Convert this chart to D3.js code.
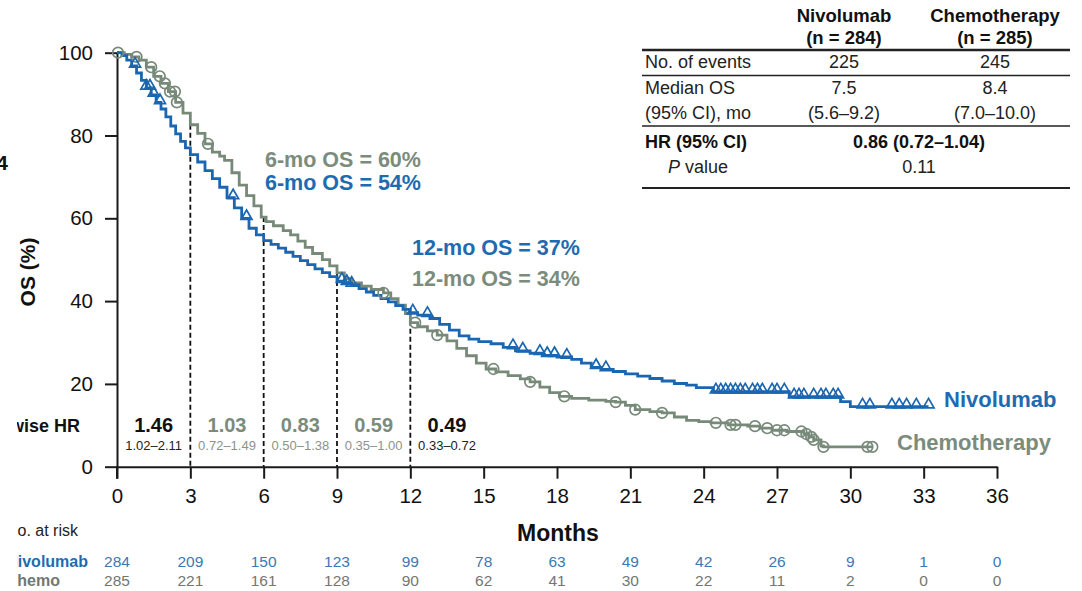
<!DOCTYPE html>
<html>
<head>
<meta charset="utf-8">
<script src="https://cdn.jsdelivr.net/npm/d3@7"></script>
<style>
  html, body { margin: 0; padding: 0; background: #fff; }
  svg { display: block; font-family: "Liberation Sans", Arial, sans-serif; }
</style>
</head>
<body>
<svg id="chart" width="1082" height="591"></svg>
<script>
// Kaplan–Meier step points [month, % alive]
const nivoSteps = [
  [0,100],[0.2,99.3],[0.4,98.2],[0.6,96.8],[0.8,95.1],[1.0,93.3],[1.2,91.5],[1.4,89.8],
  [1.6,88.0],[1.8,86.4],[2.0,84.5],[2.2,82.3],[2.4,80.4],[2.6,78.6],[2.8,77.0],[3.0,75.4],
  [3.3,73.6],[3.6,71.5],[3.9,69.6],[4.2,67.5],[4.5,65.0],[4.8,62.5],[5.1,60.0],[5.4,57.6],
  [5.7,56.0],[6.0,54.6],[6.3,53.7],[6.6,52.8],[6.9,51.8],[7.2,50.8],[7.5,49.8],[7.8,48.8],
  [8.1,47.8],[8.4,46.9],[8.7,45.9],[9.0,44.8],[9.3,44.3],[9.6,43.9],[9.9,43.0],[10.2,42.2],
  [10.5,41.4],[10.8,40.6],[11.1,39.8],[11.4,38.9],[11.7,38.0],[12.0,37.2],[12.3,36.6],
  [12.8,35.8],[13.2,34.4],[13.6,33.0],[14.0,31.6],[14.4,30.8],[14.8,30.2],[15.3,29.7],
  [15.8,28.8],[16.3,28.0],[16.9,27.4],[17.4,26.9],[18.0,26.5],[18.6,25.9],[19.0,25.0],
  [19.4,24.0],[19.8,23.5],[20.3,23.0],[20.8,22.4],[21.3,21.9],[21.8,21.3],[22.3,20.7],
  [22.8,20.1],[23.3,19.7],[23.7,19.1],[24.4,18.1],[27.5,16.9],[29.6,15.7],[30.0,14.5],
  [33.2,14.5]
];
const chemoSteps = [
  [0,100],[0.3,99.6],[0.6,99.0],[0.9,98.2],[1.2,96.5],[1.5,94.3],[1.8,92.6],[2.1,90.6],
  [2.4,88.0],[2.7,85.4],[3.0,82.6],[3.3,80.5],[3.6,78.0],[3.9,76.0],[4.2,75.0],[4.4,74.0],
  [4.7,71.0],[5.0,68.0],[5.3,65.5],[5.6,63.0],[5.9,60.3],[6.1,59.2],[6.4,58.2],[6.8,57.0],
  [7.1,56.0],[7.4,54.5],[7.7,53.0],[8.0,51.5],[8.4,50.0],[8.7,48.5],[9.0,46.8],[9.3,45.4],
  [9.6,44.4],[10.0,43.6],[10.4,42.8],[10.9,42.0],[11.2,40.6],[11.5,39.0],[11.8,37.0],
  [12.0,34.8],[12.3,33.8],[12.7,32.8],[13.1,31.8],[13.5,30.4],[13.9,28.6],[14.3,26.8],
  [14.7,25.0],[15.1,23.6],[15.5,22.9],[16.0,22.0],[16.5,21.2],[16.9,20.5],[17.3,19.2],
  [17.7,17.9],[18.1,17.0],[18.6,16.5],[19.3,16.1],[20.0,15.8],[20.4,15.6],[20.8,14.8],
  [21.2,13.8],[21.8,13.3],[22.3,13.0],[22.8,12.0],[23.3,11.2],[23.8,10.9],[24.3,10.6],
  [25.0,10.1],[25.8,9.8],[26.3,9.3],[26.8,8.8],[27.4,8.5],[28.1,7.9],[28.3,7.2],[28.5,6.5],
  [28.8,5.0],[28.9,4.8],[30.9,4.8]
];

// Censoring times (months)
const nivoCensor = [0.74,1.2,1.35,1.5,1.76,4.75,5.3,9.2,9.4,9.6,12.1,12.7,16.2,16.6,17.3,
  17.6,17.9,18.4,19.6,20.0,24.5,24.7,24.9,25.1,25.3,25.5,25.7,26.0,26.2,26.4,26.8,27.0,
  27.3,27.7,27.9,28.1,28.5,28.8,29.0,29.3,29.5,30.5,30.8,31.7,32.0,32.3,32.7,33.2];
const chemoCensor = [0.04,0.8,1.4,1.75,1.96,2.17,2.37,2.45,3.72,10.9,12.2,13.1,15.4,16.9,
  18.3,20.4,21.2,22.3,24.5,25.1,25.3,26.1,26.6,27.0,27.3,28.0,28.2,28.4,28.5,28.9,30.7,30.9];

const monthTicks = [0,3,6,9,12,15,18,21,24,27,30,33,36];
const pctTicks = [0,20,40,60,80,100];
const nivoAtRisk = [284,209,150,123,99,78,63,49,42,26,9,1,0];
const chemoAtRisk = [285,221,161,128,90,62,41,30,22,11,2,0,0];

// Piecewise HRs per 3-month interval
const hrIntervals = [[0,3],[3,6],[6,9],[9,12],[12,15]];
const hrValues = ["1.46","1.03","0.83","0.59","0.49"];
const hrCIs = ["1.02–2.11","0.72–1.49","0.50–1.38","0.35–1.00","0.33–0.72"];
const hrDark = [true,false,false,false,true];
const landmarks = [3,6,9,12];

// Summary table
const tableHeads = [["Nivolumab","(n = 284)"],["Chemotherapy","(n = 285)"]];
const eventsRow = ["No. of events","225","245"];
const medianRow = ["Median OS","7.5","8.4"];
const medianCIRow = ["(95% CI), mo","(5.6–9.2)","(7.0–10.0)"];
const hrRow = ["HR (95% CI)","0.86 (0.72–1.04)"];
const pRow = ["value","0.11"];

const BLUE = "#1b66b1", BLUE_TXT = "#1e6bb2", BLUE_NUM = "#3c78b6";
const GRAY = "#778a79", GRAY_TXT = "#7b8c7c", GRAY_NUM = "#727772";
const AXIS = "#1a1a1a";

const svg = d3.select("#chart");
const x = d3.scaleLinear().domain([0,36]).range([117,997]);
const y = d3.scaleLinear().domain([0,100]).range([466.7,52.7]);

// left labels are trimmed by the panel's left margin
svg.append("defs").append("clipPath").attr("id", "leftTrim")
  .append("rect").attr("x", 17).attr("y", 0).attr("width", 1065).attr("height", 591);

function survAt(steps, t) {
  let v = steps[0][1];
  for (const [m, s] of steps) { if (m <= t) v = s; else break; }
  return v;
}

// Axes
const yAxis = svg.append("g").attr("transform", `translate(${x(0)},0)`)
  .call(d3.axisLeft(y).tickValues(pctTicks).tickSize(12).tickSizeOuter(0).tickPadding(12));
const xAxis = svg.append("g").attr("transform", `translate(0,${y(0)})`)
  .call(d3.axisBottom(x).tickValues(monthTicks).tickSize(12).tickSizeOuter(0).tickPadding(10));
[yAxis, xAxis].forEach(g => {
  g.selectAll("path, line").attr("stroke", AXIS).attr("stroke-width", 2);
  g.selectAll("text").attr("font-size", 20.5).attr("fill", "#111")
   .attr("font-family", "Liberation Sans, Arial, sans-serif");
});
svg.append("line").attr("x1", x(0)).attr("x2", x(0)).attr("y1", y(0)).attr("y2", y(0) + 12)
  .attr("stroke", AXIS).attr("stroke-width", 2);

// Landmark dashed lines
svg.append("g").selectAll("line").data(landmarks).join("line")
  .attr("x1", d => x(d)).attr("x2", d => x(d))
  .attr("y1", d => y(Math.max(survAt(nivoSteps, d), survAt(chemoSteps, d))))
  .attr("y2", y(0))
  .attr("stroke", "#111").attr("stroke-width", 1.8).attr("stroke-dasharray", "5,3");

// Curves
const line = d3.line().x(d => x(d[0])).y(d => y(d[1])).curve(d3.curveStepAfter);
svg.append("path").datum(chemoSteps).attr("d", line)
  .attr("fill", "none").attr("stroke", GRAY).attr("stroke-width", 2.8);
svg.append("path").datum(nivoSteps).attr("d", line)
  .attr("fill", "none").attr("stroke", BLUE).attr("stroke-width", 2.8);

// Censor marks
svg.append("g").selectAll("circle").data(chemoCensor).join("circle")
  .attr("cx", d => x(d)).attr("cy", d => y(survAt(chemoSteps, d)))
  .attr("r", 5.3).attr("fill", "none").attr("stroke", GRAY).attr("stroke-width", 1.7);
const tri = d3.symbol().type(d3.symbolTriangle).size(52);
svg.append("g").selectAll("path").data(nivoCensor).join("path")
  .attr("d", tri)
  .attr("transform", d => `translate(${x(d)},${y(survAt(nivoSteps, d)) - 2})`)
  .attr("fill", "none").attr("stroke", BLUE).attr("stroke-width", 1.7);

function label(txt, px, py, color, size, weight, anchor) {
  return svg.append("text").attr("x", px).attr("y", py).text(txt)
    .attr("fill", color).attr("font-size", size).attr("font-weight", weight || "normal")
    .attr("text-anchor", anchor || "start");
}

// Landmark OS annotations
label("6-mo OS = 60%", 265, 167, GRAY_TXT, 21.5, "bold");
label("6-mo OS = 54%", 265, 190, BLUE_TXT, 21.5, "bold");
label("12-mo OS = 37%", 412, 255, BLUE_TXT, 21.5, "bold");
label("12-mo OS = 34%", 412, 286, GRAY_TXT, 21.5, "bold");

// Series names
label("Nivolumab", 944, 407, BLUE_TXT, 22, "bold");
label("Chemotherapy", 897, 450, GRAY_TXT, 22, "bold");

// Piecewise HR row
label("Piecewise HR", 80, 432, "#111", 18, "bold", "end").attr("clip-path", "url(#leftTrim)");
hrIntervals.forEach((iv, i) => {
  const cx = x((iv[0] + iv[1]) / 2);
  label(hrValues[i], cx, 432, hrDark[i] ? "#111" : GRAY_TXT, 20, "bold", "middle");
  label(hrCIs[i], cx, 450, hrDark[i] ? "#222" : "#8a948b", 13, "normal", "middle");
});

// Y title and panel marker
svg.append("text").attr("transform", "translate(35,272) rotate(-90)")
  .attr("text-anchor", "middle").attr("font-size", 21).attr("font-weight", "bold")
  .attr("fill", "#111").text("OS (%)");
label("4", 8, 170, "#111", 21, "bold", "end");

// X title
label("Months", 558, 541, "#111", 23, "bold", "middle");

// Numbers at risk
label("No. at risk", 78, 536, "#222", 16, "normal", "end").attr("clip-path", "url(#leftTrim)");
label("Nivolumab", 88, 567, BLUE_TXT, 16, "bold", "end").attr("clip-path", "url(#leftTrim)");
label("Chemo", 60, 586, GRAY_NUM, 16, "bold", "end").attr("clip-path", "url(#leftTrim)");
svg.append("g").selectAll("text").data(nivoAtRisk).join("text")
  .attr("x", (d, i) => x(monthTicks[i])).attr("y", 567).attr("text-anchor", "middle")
  .attr("font-size", 15.5).attr("fill", BLUE_NUM).text(d => d);
svg.append("g").selectAll("text").data(chemoAtRisk).join("text")
  .attr("x", (d, i) => x(monthTicks[i])).attr("y", 586).attr("text-anchor", "middle")
  .attr("font-size", 15.5).attr("fill", GRAY_NUM).text(d => d);

// Summary table
const colN = 844, colC = 995, colHR = 919, rowX = 645;
tableHeads.forEach((h, i) => {
  const cx = i === 0 ? colN : colC;
  label(h[0], cx, 22, "#111", 18.5, "bold", "middle");
  label(h[1], cx, 44, "#111", 18.5, "bold", "middle");
});
const rule = (yy, w) => svg.append("line").attr("x1", 642).attr("x2", 1070)
  .attr("y1", yy).attr("y2", yy).attr("stroke", "#222").attr("stroke-width", w);
rule(50, 2.4);
label(eventsRow[0], rowX, 68, "#222", 18);
label(eventsRow[1], colN, 68, "#222", 18, "normal", "middle");
label(eventsRow[2], colC, 68, "#222", 18, "normal", "middle");
rule(75.5, 1.6);
label(medianRow[0], rowX, 94, "#222", 18);
label(medianRow[1], colN, 94, "#222", 18, "normal", "middle");
label(medianRow[2], colC, 94, "#222", 18, "normal", "middle");
label(medianCIRow[0], rowX, 119, "#222", 18);
label(medianCIRow[1], colN, 119, "#222", 18, "normal", "middle");
label(medianCIRow[2], colC, 119, "#222", 18, "normal", "middle");
rule(126, 1.6);
label(hrRow[0], rowX, 148, "#111", 18, "bold");
label(hrRow[1], colHR, 148, "#111", 18, "bold", "middle");
const pt = label("", 668, 173, "#222", 18);
pt.append("tspan").attr("font-style", "italic").text("P");
pt.append("tspan").text(" " + pRow[0]);
label(pRow[1], colHR, 173, "#222", 18, "normal", "middle");
rule(188, 1.8);
</script>
</body>
</html>
